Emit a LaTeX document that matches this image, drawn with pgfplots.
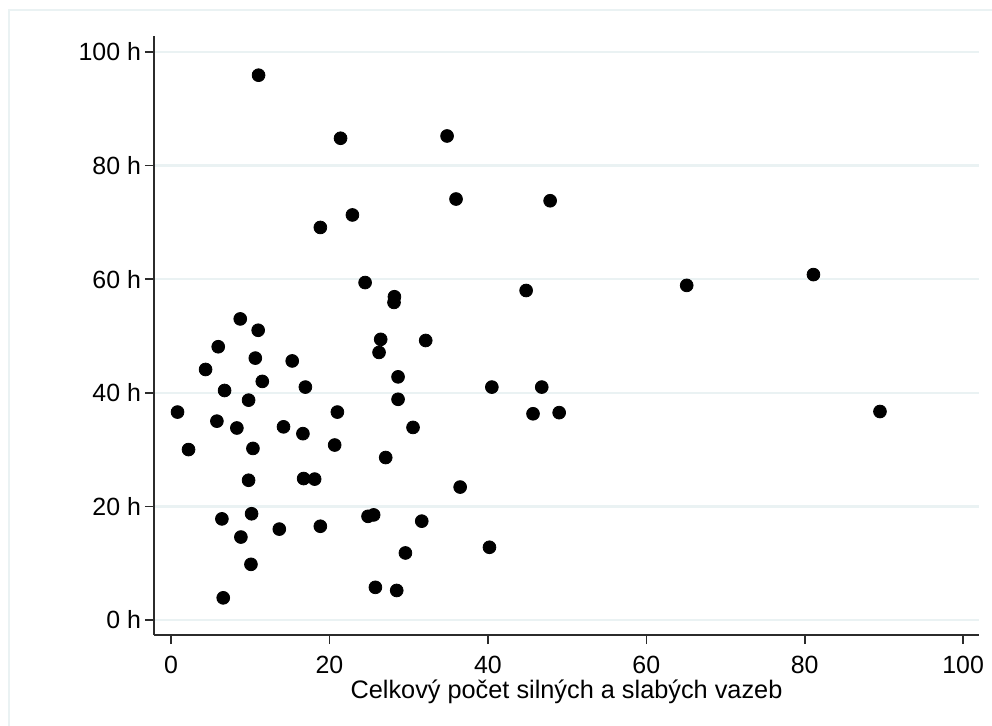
\documentclass[border=0pt]{standalone}
\usepackage{pgfplots}
\pgfplotsset{compat=1.18}
\usepackage{fontspec}
\setmainfont{Liberation Sans}
\definecolor{gridc}{HTML}{EAF2F3}
\definecolor{framec}{HTML}{EAF2F3}
\definecolor{axc}{HTML}{2B2B2B}
\begin{document}
\begin{tikzpicture}
\useasboundingbox (0,0) rectangle (496bp,363bp);
\draw[framec, line width=1bp] (4.5bp,-20bp) rectangle (520bp,358bp);
\begin{axis}[
  scale only axis,
  width=412.5bp, height=299.5bp,
  at={(77bp,45.5bp)}, anchor=south west,
  xmin=-2.15, xmax=102.0,
  ymin=-2.64, ymax=102.8,
  axis x line*=bottom, axis y line*=left,
  axis line style={axc, line width=0.8bp},
  x axis line style={-}, y axis line style={-},
  xtick={0,20,40,60,80,100},
  ytick={0,20,40,60,80,100},
  yticklabel={\pgfmathprintnumber{\tick} h},
  tick align=outside,
  major tick length=4.5bp,
  tick style={axc, line width=0.8bp},
  ymajorgrids,
  grid style={gridc, line width=1.2bp},
  font=\fontsize{12.5}{14}\selectfont,
  /pgf/number format/assume math mode=true,
  ticklabel style={font=\fontsize{12.5}{14}\selectfont},
  xticklabel style={yshift=-2.5bp},
  yticklabel style={xshift=1.5bp},
  xlabel={Celkový počet silných a slabých vazeb},
  xlabel style={at={(axis description cs:0.5,0)}, anchor=base, yshift=-31.5bp, font=\fontsize{12.7}{14}\selectfont},
  clip=false,
]
\addplot[only marks, mark=*, mark size=3.2bp, mark options={fill=black, draw=black}] coordinates {
(11.05,95.9) (21.4,84.8) (34.85,85.2) (22.9,71.3) (18.85,69.1)
(35.98,74.1) (47.86,73.8) (24.5,59.4) (28.2,56.9) (28.15,55.9)
(44.83,58.0) (65.1,58.9) (81.1,60.8) (8.74,53.0) (11.0,51.0)
(26.47,49.4) (32.15,49.2) (5.96,48.1) (10.64,46.1) (15.3,45.6)
(26.26,47.1) (4.36,44.1) (11.52,42.0) (16.96,41.0) (28.66,42.8)
(6.76,40.4) (9.79,38.7) (28.66,38.85) (40.5,41.0) (46.8,41.0)
(0.82,36.6) (21.0,36.6) (45.7,36.3) (49.0,36.5) (89.5,36.7)
(5.79,35.0) (8.31,33.8) (14.2,34.0) (16.65,32.8) (30.55,33.9)
(2.21,30.0) (10.34,30.2) (20.66,30.8) (27.1,28.6) (9.79,24.6)
(16.74,24.9) (18.13,24.8) (36.5,23.4) (6.42,17.8) (10.17,18.7)
(24.87,18.25) (25.58,18.5) (31.65,17.4) (8.82,14.6) (13.67,16.0)
(18.85,16.5) (29.59,11.8) (40.2,12.8) (10.09,9.8) (25.8,5.75)
(28.49,5.2) (6.59,3.9)
};
\end{axis}
\end{tikzpicture}
\end{document}
